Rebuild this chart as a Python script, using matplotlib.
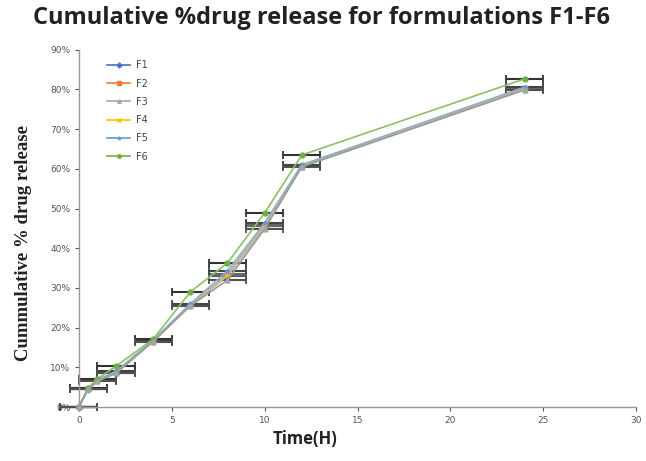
import numpy as np
import matplotlib.pyplot as plt

# time points (hours)
time_h = [0, 0.5, 1, 2, 4, 6, 8, 10, 12, 24]

# cumulative % drug release
f1 = [0, 4.6, 6.7, 8.7, 16.7, 25.7, 33.0, 45.5, 60.8, 80.2]
f2 = [0, 4.6, 6.8, 8.8, 16.8, 25.8, 33.5, 46.0, 61.0, 80.5]
f3 = [0, 4.5, 6.5, 8.5, 16.5, 25.5, 32.0, 44.9, 60.5, 79.9]
f4 = [0, 4.6, 6.7, 8.6, 16.6, 25.6, 33.2, 45.7, 60.7, 80.1]
f5 = [0, 4.7, 6.9, 9.0, 16.9, 26.0, 34.3, 46.4, 61.0, 80.6]
f6 = [0, 4.8, 7.1, 10.3, 17.1, 29.0, 36.3, 48.9, 63.5, 82.7]

labels = ["F1", "F2", "F3", "F4", "F5", "F6"]
series = [f1, f2, f3, f4, f5, f6]
colors = ["#4472C4", "#ED7D31", "#A5A5A5", "#FFC000", "#5B9BD5", "#70AD47"]
markers = ["D", "s", "^", "x", "*", "o"]
line_colors = ["#8ea9c8", "#c9a88f", "#9a9a9a", "#c8bb88", "#8fb0cc", "#8cc068"]
err_colors = ["#555555", "#666666", "#505050", "#666666", "#444444", "#333333"]
x_err = 1.0

fig = plt.figure(figsize=(6.46, 4.61), dpi=100)
ax = fig.add_axes([0.122, 0.117, 0.863, 0.775])

draw_order = [0, 1, 3, 4, 5, 2]
for i in draw_order:
    ax.errorbar(time_h, np.array(series[i]) / 100, xerr=x_err, fmt="none",
                ecolor=err_colors[i], elinewidth=1.5, capsize=3, capthick=1.3,
                clip_on=False, zorder=2)
for i in draw_order:
    ax.plot(time_h, np.array(series[i]) / 100, color=line_colors[i], lw=1.2,
            marker=markers[i], markersize=3.5, markerfacecolor=colors[i],
            markeredgecolor=colors[i], clip_on=False, zorder=3)

# legend handles in series order
handles = [plt.Line2D([], [], color=colors[i], lw=1.2, marker=markers[i],
                      markersize=2.5) for i in range(6)]
leg = ax.legend(handles, labels, loc="upper left", bbox_to_anchor=(0.035, 0.995),
                frameon=False, fontsize=7, handlelength=2.4, labelspacing=0.85,
                handletextpad=0.6)
for t in leg.get_texts():
    t.set_color("#444444")

ax.set_xlim(0, 30)
ax.set_ylim(0, 0.9)
ax.set_xticks(range(0, 31, 5))
ax.set_yticks(np.arange(0, 0.91, 0.1))
ax.set_yticklabels([f"{v}%" for v in range(0, 91, 10)])
ax.tick_params(labelsize=6.5, colors="#555555", length=3, width=0.8)
ax.tick_params(axis="y", pad=3)
for s in ["top", "right"]:
    ax.spines[s].set_visible(False)
for s in ["left", "bottom"]:
    ax.spines[s].set_color("#999999")
    ax.spines[s].set_linewidth(1.0)

fig.text(0.497, 0.962, "Cumulative %drug release for formulations F1-F6",
         ha="center", va="center", fontsize=17, fontweight="bold",
         family="Open Sans", color="#222222")
fig.text(0.472, 0.048, "Time(H)", ha="center", va="center", fontsize=12,
         fontweight="bold", family="Open Sans", color="#222222")
fig.text(0.036, 0.473, "Cummulative % drug release", ha="center", va="center",
         rotation=90, fontsize=13.5, fontweight="bold",
         family="Liberation Serif", color="#222222")

fig.savefig("out.png", dpi=100)
